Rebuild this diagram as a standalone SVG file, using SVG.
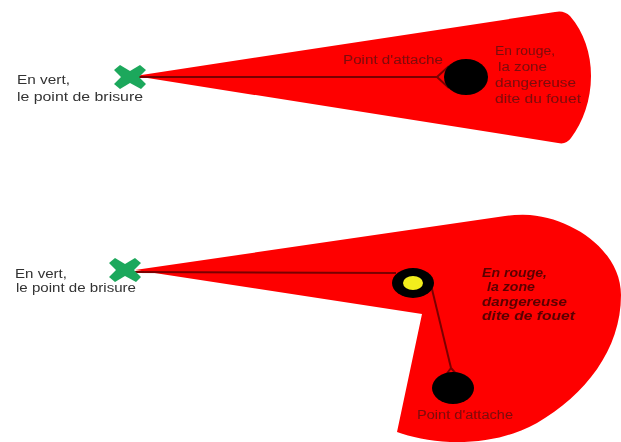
<svg xmlns="http://www.w3.org/2000/svg" width="621" height="442" viewBox="0 0 621 442">
<defs>
<filter id="soft" x="-10%" y="-10%" width="120%" height="120%"><feGaussianBlur stdDeviation="0.7"/></filter>
<path id="cross" d="M-16,-7 L-10,-12 L0,-6 L10,-12 L16,-7 L9,0 L16,7 L11,12 L0,6 L-10,12 L-16,7 L-9,0 Z"/>
</defs>
<style>
.zone{fill:#fe0000}
.link{fill:none;stroke:#7a0000;stroke-width:2}
.mark{fill:#1fa85c}
.dot{fill:#000}
text{font-family:"Liberation Sans",Arial,sans-serif;font-size:12px}
.dark{fill:#7a0a0a}
.bold{fill:#5a0404;font-weight:bold;font-style:italic}
.grey{fill:#333}
</style>
<rect width="621" height="442" fill="#fff"/>
<g filter="url(#soft)">
<g id="zone-top"><path class="zone" d="M135,76 L555,12 Q564,10 570,16 C584,32 591,54 591,76 C591,100 583,122 571,138 Q566,145 558,143 Z"/></g>
<g id="zone-bottom"><path class="zone" d="M135,270 L505,216 Q520,214 530,215 C575,219 621,252 621,295 C621,350 585,395 537,423 C510,438 480,443 450,442 C430,441 410,437 397,432 L422,314 Z"/></g>
<g id="connectors">
<path class="link" d="M135,77 L437,77 L449,66"/>
<path class="link" d="M437,77 L449,88"/>
<path class="link" d="M135,272 L396,273"/>
<path class="link" d="M431,285 L451,368"/>
<path class="link" d="M451,368 L445,376 M451,368 L458,376"/>
</g>
<g id="break-top"><use href="#cross" class="mark" x="130" y="77"/></g>
<g id="break-bottom"><use href="#cross" class="mark" x="125" y="270"/></g>
<g id="attach-top"><ellipse class="dot" cx="466" cy="77" rx="22" ry="18"/></g>
<g id="pivot"><ellipse class="dot" cx="413" cy="283" rx="21" ry="15"/><ellipse cx="413" cy="283" rx="10" ry="7" fill="#f3ee1c"/></g>
<g id="attach-bottom"><ellipse class="dot" cx="453" cy="388" rx="21" ry="16"/></g>
<g id="label-top-left"><text class="grey" x="17" y="84" textLength="53" lengthAdjust="spacingAndGlyphs">En vert,</text><text class="grey" x="17" y="101" textLength="126" lengthAdjust="spacingAndGlyphs">le point de brisure</text></g>
<g id="label-bottom-left"><text class="grey" x="15" y="278" textLength="52" lengthAdjust="spacingAndGlyphs">En vert,</text><text class="grey" x="16" y="292" textLength="120" lengthAdjust="spacingAndGlyphs">le point de brisure</text></g>
<g id="label-attach-top"><text class="dark" x="343" y="64" textLength="100" lengthAdjust="spacingAndGlyphs">Point d'attache</text></g>
<g id="label-zone-top"><text class="dark" x="495" y="55" textLength="60" lengthAdjust="spacingAndGlyphs">En rouge,</text><text class="dark" x="498" y="71" textLength="49" lengthAdjust="spacingAndGlyphs">la zone</text><text class="dark" x="495" y="87" textLength="81" lengthAdjust="spacingAndGlyphs">dangereuse</text><text class="dark" x="495" y="103" textLength="86" lengthAdjust="spacingAndGlyphs">dite du fouet</text></g>
<g id="label-zone-bottom"><text class="bold" x="482" y="277" textLength="65" lengthAdjust="spacingAndGlyphs">En rouge,</text><text class="bold" x="487" y="291" textLength="48" lengthAdjust="spacingAndGlyphs">la zone</text><text class="bold" x="482" y="306" textLength="85" lengthAdjust="spacingAndGlyphs">dangereuse</text><text class="bold" x="482" y="320" textLength="93" lengthAdjust="spacingAndGlyphs">dite de fouet</text></g>
<g id="label-attach-bottom"><text class="dark" x="417" y="419" textLength="96" lengthAdjust="spacingAndGlyphs">Point d'attache</text></g>
</g>
</svg>
